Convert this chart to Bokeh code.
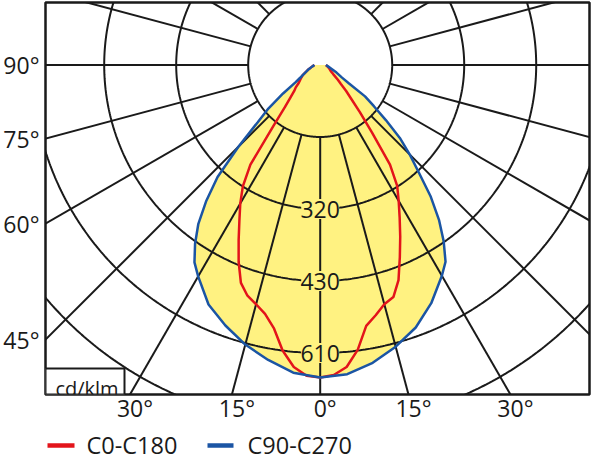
import numpy as np
from bokeh.plotting import figure
from bokeh.layouts import column
from bokeh.models import Range1d, FixedTicker
from bokeh.core.properties import value
from bokeh.embed import file_html
from bokeh.resources import INLINE

# ---------------- data (gamma in degrees from nadir, left side negative; r in ring units) ----
gamma_c90 = [-90, -80, -70, -65, -60, -57.5, -55, -52.5, -50, -47.5, -45, -42.5, -40, -37.5,
             -35, -32.5, -30, -25, -20, -15, -10, -5, 0, 5, 10, 15, 20, 25, 30, 32.5, 35, 37.5,
             40, 42.5, 45, 47.5, 50, 52.5, 55, 57.5, 60, 65, 70, 80, 90]
r_c90 = [0.08, 0.11, 0.17, 0.21, 0.28, 0.33, 0.42, 0.65, 0.94, 1.18, 1.61, 2.11, 2.46, 2.78,
         3.03, 3.25, 3.39, 3.67, 3.85, 4.02, 4.16, 4.29, 4.34, 4.31, 4.20, 4.05, 3.88, 3.65,
         3.38, 3.24, 2.99, 2.71, 2.39, 2.03, 1.76, 1.50, 1.19, 0.94, 0.76, 0.47, 0.35, 0.25,
         0.18, 0.11, 0.08]

gamma_c0 = [-90, -80, -70, -60, -55, -50, -47.5, -45, -42.5, -40, -37.5, -35, -32.5, -30,
            -27.5, -25, -22.5, -20, -17.5, -15, -12.5, -10, -7.5, -5, -2.5, 0, 2.5, 5, 7.5,
            10, 12.5, 15, 17.5, 20, 22.5, 25, 27.5, 30, 32.5, 35, 37.5, 40, 42.5, 45, 47.5,
            50, 55, 60, 70, 80, 90]
r_c0 = [0.08, 0.11, 0.17, 0.28, 0.33, 0.39, 0.46, 0.51, 0.61, 0.76, 1.07, 1.69, 2.00, 2.22,
        2.43, 2.68, 2.96, 3.22, 3.36, 3.44, 3.54, 3.71, 4.00, 4.21, 4.32, 4.34, 4.31, 4.21,
        3.99, 3.68, 3.56, 3.44, 3.38, 3.18, 2.89, 2.63, 2.39, 2.18, 1.99, 1.69, 1.18, 0.86,
        0.64, 0.51, 0.39, 0.32, 0.22, 0.17, 0.13, 0.10, 0.08]

ring_radii = [1, 2, 3, 4, 5]
ring_label_radii = [2, 3, 4]
ring_labels = ["320", "430", "610"]
spoke_angles = list(range(0, 360, 15))
left_tick_angles = [90, 75, 60, 45]
bottom_tick_angles = [-30, -15, 0, 15, 30]
series_names = ["C0-C180", "C90-C270"]
unit_label = "cd/klm"

# ---------------- style ----------------
YELLOW = "#FFF281"
RED = "#E3141B"
BLUE = "#1B55A4"
INK = "#1A1A1A"
FONT = "Open Sans"

PX = 72.0             # pixels per ring
FW, FH = 544, 392     # frame size
BL, BR = 44, 5        # left / right borders
CX, CY = 274.7, 62.5  # pole offset from frame top-left (px)
x0, x1 = -CX / PX, (FW - CX) / PX
y0, y1 = -(FH - CY) / PX, CY / PX


def polar(g, r):
    g = np.radians(np.asarray(g, float))
    r = np.asarray(r, float)
    return r * np.sin(g), -r * np.cos(g)


p = figure(frame_width=FW, frame_height=FH,
           x_range=Range1d(x0, x1), y_range=Range1d(y0, y1),
           output_backend="svg", toolbar_location=None,
           min_border_left=BL, min_border_right=BR, min_border_top=2, min_border_bottom=32,
           background_fill_color="white", border_fill_color="white",
           outline_line_color=INK, outline_line_width=2.5)
p.xgrid.visible = False
p.ygrid.visible = False

# yellow fill of the C90-C270 curve
bx, by = polar(gamma_c90, r_c90)
p.patch(bx, by, fill_color=YELLOW, line_color=None)

# polar grid
t = np.linspace(0, 2 * np.pi, 721)
p.multi_line(xs=[list(k * np.cos(t)) for k in ring_radii],
             ys=[list(k * np.sin(t)) for k in ring_radii],
             line_color=INK, line_width=2)
sa = np.radians(spoke_angles)
p.segment(x0=np.sin(sa) * ring_radii[0], y0=-np.cos(sa) * ring_radii[0],
          x1=np.sin(sa) * 9, y1=-np.cos(sa) * 9, line_color=INK, line_width=2)

# ring value labels
lx, ly = polar([0] * len(ring_label_radii), ring_label_radii)
p.rect(x=lx, y=ly, width=38, height=20, width_units="screen", height_units="screen",
       fill_color=YELLOW, line_color=None)
p.text(x=lx, y=ly, text=ring_labels, text_align="center", text_baseline="middle",
       text_font=value(FONT), text_font_size="23px", text_color=INK)

# curves
rx, ry = polar(gamma_c0, r_c0)
p.line(rx, ry, line_color=RED, line_width=2.5)
p.line(bx, by, line_color=BLUE, line_width=2.5)

# unit box
p.quad(left=[x0], right=[x0 + 79 / PX], bottom=[y0], top=[y0 + 26 / PX],
       fill_color="white", line_color=INK, line_width=2)
p.text(x=[x0 + 41.5 / PX], y=[y0 + 6 / PX], text=[unit_label], text_align="center",
       text_baseline="alphabetic", text_font=value(FONT), text_font_size="20px",
       text_color=INK)

# axes (angle labels), digits centred on the spoke ends
deg_shift = 5 / PX
lt = [float(round(x0 * np.cos(np.radians(a)) / np.sin(np.radians(a)), 6)) + 0.0
      for a in left_tick_angles]
bt = [float(round(-y0 * np.tan(np.radians(a)) + deg_shift, 6)) + 0.0
      for a in bottom_tick_angles]
p.yaxis.ticker = FixedTicker(ticks=lt)
p.yaxis.major_label_overrides = {v: f"{abs(a)}°" for v, a in zip(lt, left_tick_angles)}
p.xaxis.ticker = FixedTicker(ticks=bt)
p.xaxis.major_label_overrides = {v: f"{abs(a)}°" for v, a in zip(bt, bottom_tick_angles)}
for ax in (p.xaxis[0], p.yaxis[0]):
    ax.axis_line_color = None
    ax.major_tick_line_color = None
    ax.minor_tick_line_color = None
    ax.major_tick_out = 0
    ax.major_tick_in = 0
    ax.major_label_text_font = FONT
    ax.major_label_text_font_size = "23px"
    ax.major_label_text_color = INK
p.yaxis.major_label_standoff = 6
p.xaxis.major_label_standoff = -3

# ---------------- legend strip (x in page pixels, frame aligned with the chart) ----------------
LH = 34
leg = figure(frame_width=FW, frame_height=LH,
             x_range=Range1d(BL, BL + FW), y_range=Range1d(0, LH),
             output_backend="svg", toolbar_location=None,
             min_border_left=BL, min_border_right=BR, min_border_top=0, min_border_bottom=0,
             x_axis_type=None, y_axis_type=None, outline_line_color=None,
             background_fill_color="white", border_fill_color="white")
leg.xgrid.visible = False
leg.ygrid.visible = False
key_x0 = [46, 206]
key_x1 = [73, 232]
text_x = [85, 246]
key_y = 15
leg.segment(x0=key_x0, x1=key_x1, y0=[key_y] * 2, y1=[key_y] * 2,
            line_color=[RED, BLUE], line_width=4.5)
leg.text(x=text_x, y=[key_y + 1] * 2, text=series_names, text_align="left",
         text_baseline="middle", text_font=value(FONT), text_font_size="23.5px",
         text_color=INK)

layout = column(p, leg, spacing=0)
open("out.html", "w").write(file_html(layout, INLINE))
